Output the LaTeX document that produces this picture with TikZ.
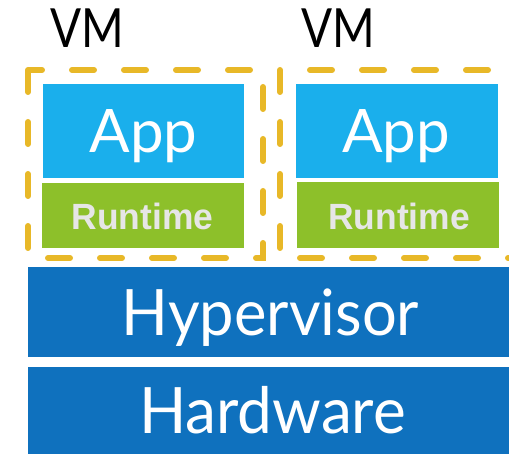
\documentclass[tikz,border=0pt]{standalone}
\usepackage{fontspec}
\setmainfont{Lato}
\newfontfamily\boldsans{Liberation Sans}[BoldFont={* Bold}]
\definecolor{appblue}{HTML}{1AAFEC}
\definecolor{rtgreen}{HTML}{8DC02A}
\definecolor{hvblue}{HTML}{0F71BE}
\definecolor{vmgold}{HTML}{E8B828}
\definecolor{rttext}{HTML}{E6E6E6}
\begin{document}
\begin{tikzpicture}[x=1pt,y=-1pt,
  layer/.style={draw=none,inner sep=0pt,outer sep=0pt,anchor=north west},
  vmbox/.style={draw=vmgold,line width=6pt,line cap=round,dash pattern=on 22pt off 30pt},
  bigtxt/.style={inner sep=0pt,anchor=base,text=white,font=\fontsize{64}{64}\selectfont},
  apptxt/.style={inner sep=0pt,anchor=base,text=white,font=\fontsize{60}{60}\selectfont},
  rttxt/.style={inner sep=0pt,anchor=base,text=rttext,font=\boldsans\bfseries\fontsize{36.5}{36.5}\selectfont},
  vmtxt/.style={inner sep=0pt,anchor=base,text=black,font=\fontsize{54}{54}\selectfont}]
\useasboundingbox (0,0) rectangle (509,454);
\clip (0,0) rectangle (509,454);
% host layers
\node[layer,fill=hvblue,minimum width=520pt,minimum height=90pt] (hyp) at (28,267) {};
\node[layer,fill=hvblue,minimum width=520pt,minimum height=110pt] (hw) at (28,367) {};
% first VM
\node[layer,fill=appblue,minimum width=201pt,minimum height=94pt] (app1) at (43,84) {};
\node[layer,fill=rtgreen,minimum width=202pt,minimum height=65pt] (rt1) at (42,183) {};
\draw[vmbox] (28,70) rectangle (263,258);
% second VM
\node[layer,fill=appblue,minimum width=202pt,minimum height=94pt] (app2) at (296,84) {};
\node[layer,fill=rtgreen,minimum width=202pt,minimum height=66pt] (rt2) at (297,182) {};
\draw[vmbox] (280,70) rectangle (560,258);
% labels
\node[vmtxt] (vm1) at (87,48) {\scalebox{0.85}[1]{VM}};
\node[vmtxt] (vm2) at (338,48) {\scalebox{0.85}[1]{VM}};
\node[apptxt] (app1t) at (143.5,153) {App};
\node[apptxt] (app2t) at (396,153) {App};
\node[rttxt] (rt1t) at (142.5,229.5) {\scalebox{0.97}[1]{Runtime}};
\node[rttxt] (rt2t) at (399,229.5) {\scalebox{0.97}[1]{Runtime}};
\node[bigtxt] (hypt) at (270.5,336) {\scalebox{0.96}[1]{Hypervisor}};
\node[bigtxt] (hwt) at (272.5,433) {\scalebox{0.97}[1]{Hardware}};
\end{tikzpicture}
\end{document}
